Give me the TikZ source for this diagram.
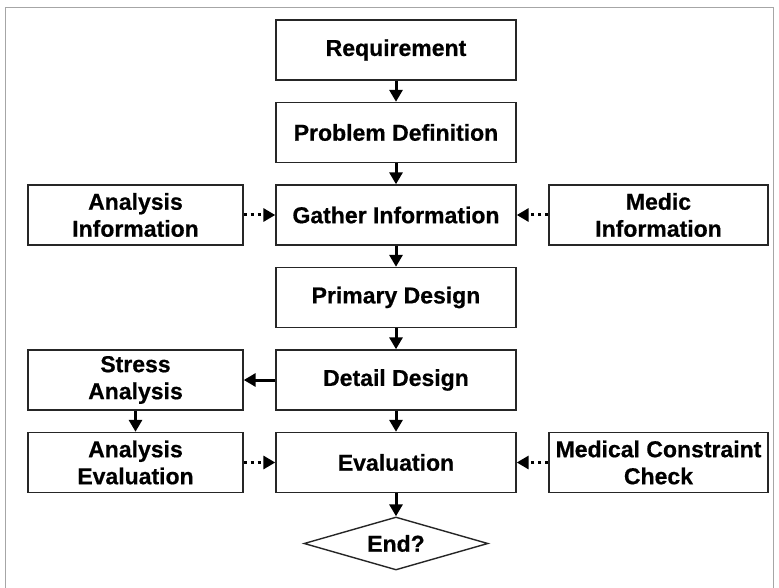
\documentclass[tikz,border=0pt]{standalone}
\usepackage{fontspec}
\setmainfont{Liberation Sans}[BoldFeatures={FakeBold=0.6}]
\usetikzlibrary{shapes.geometric,arrows.meta}
\begin{document}
\begin{tikzpicture}[x=1pt,y=-1pt,
  box/.style={draw=black!85, line width=1.4pt, rectangle, minimum height=60pt, inner sep=0pt,
    align=center, font=\fontsize{23}{27}\selectfont\bfseries},
  cbox/.style={box, minimum width=240pt},
  lbox/.style={box, minimum width=215pt},
  rbox/.style={box, minimum width=219pt},
  flow/.style={line width=3pt, draw=black, -{Triangle[length=12pt,width=13pt]}},
  dflow/.style={line width=3pt, draw=black, dash pattern=on 3pt off 4pt, -{Triangle[length=12pt,width=13pt]}},
  frame/.style={draw=black!35, line width=0.9pt}
]
\useasboundingbox (0,0) rectangle (779,588);
\draw[frame] (5,600) -- (5,7) -- (773,7) -- (773,600);

\node[cbox] (req) at (396,50) {Requirement};
\node[cbox] (prob) at (396,132.5) {Problem Definition};
\node[cbox] (gath) at (396,215) {Gather Information};
\node[lbox] (ainfo) at (135.5,215) {Analysis\\Information};
\node[rbox] (minfo) at (658.5,215) {Medic\\Information};
\node[cbox] (prim) at (396,297.5) {Primary Design};
\node[cbox] (det) at (396,380) {Detail Design};
\node[lbox] (stress) at (135.5,380) {Stress\\Analysis};
\node[cbox] (eval) at (396,462.5) {Evaluation};
\node[lbox] (aeval) at (135.5,462.5) {Analysis\\Evaluation};
\node[rbox] (mcc) at (658.5,462.5) {Medical Constraint\\Check};
\node[draw=black!85, line width=1.4pt, diamond, aspect=3.5, minimum width=184pt, minimum height=53pt,
  inner sep=0pt, font=\fontsize{23}{27}\selectfont\bfseries] (end) at (396,543.5) {End?};

\draw[flow] (req) -- (prob);
\draw[flow] (prob) -- (gath);
\draw[flow] (gath) -- (prim);
\draw[flow] (prim) -- (det);
\draw[flow] (det) -- (eval);
\draw[flow] (eval) -- (end);
\draw[flow] (det) -- (stress);
\draw[flow] (stress) -- (aeval);
\draw[dflow] (ainfo) -- (gath);
\draw[dflow] (minfo) -- (gath);
\draw[dflow] (aeval) -- (eval);
\draw[dflow] (mcc) -- (eval);
\end{tikzpicture}
\end{document}
